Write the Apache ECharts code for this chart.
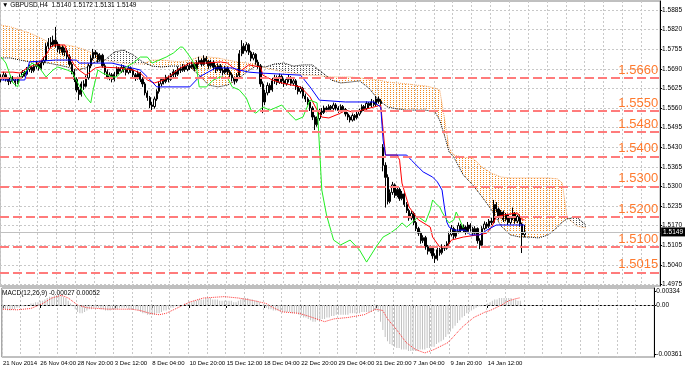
<!DOCTYPE html>
<html><head><meta charset="utf-8">
<script src="https://cdn.jsdelivr.net/npm/echarts@6/dist/echarts.min.js"></script>
<style>html,body{margin:0;padding:0;background:#fff}#c{width:685px;height:370px}</style>
</head><body><div id="c"></div>
<script>
const symbolTitle = 'GBPUSD,H4  1.5140 1.5172 1.5131 1.5149';
const macdTitle = 'MACD(12,26,9) -0.00027 0.00052';
const timeLabels = ['21 Nov 2014','26 Nov 04:00','28 Nov 20:00','3 Dec 12:00','8 Dec 04:00','10 Dec 20:00','15 Dec 12:00','18 Dec 04:00','22 Dec 20:00','29 Dec 04:00','31 Dec 20:00','7 Jan 04:00','9 Jan 20:00','14 Jan 12:00'];
const barsPerLabel = 16;
const totalSlots = 280;
const priceTicks = [1.4975,1.5040,1.5105,1.5170,1.5235,1.5300,1.5365,1.5430,1.5495,1.5560,1.5625,1.5690,1.5755,1.5820,1.5885];
const priceMin = 1.49697, priceMax = 1.59149;
const levels = [1.5660,1.5550,1.5480,1.5400,1.5300,1.5200,1.5100,1.5015];
const bidPrice = 1.5149;
const macdMin = -0.00374, macdMax = 0.00122;
const macdTickValues = [-0.00352, 0, 0.00100];
const macdTickLabels = ['-0.00361','0.00','0.00334'];

// [open, close, low, high]
const candles = [
[1.5655,1.5662,1.5645,1.5672],[1.5662,1.5670,1.5652,1.5680],[1.5670,1.5655,1.5648,1.5676],[1.5655,1.5648,1.5636,1.5662],
[1.5648,1.5660,1.5640,1.5668],[1.5660,1.5652,1.5645,1.5666],[1.5652,1.5645,1.5632,1.5658],[1.5645,1.5658,1.5640,1.5664],
[1.5658,1.5665,1.5650,1.5672],[1.5665,1.5678,1.5660,1.5686],[1.5678,1.5672,1.5664,1.5684],[1.5672,1.5688,1.5668,1.5696],
[1.5688,1.5695,1.5680,1.5704],[1.5695,1.5684,1.5676,1.5700],[1.5684,1.5698,1.5678,1.5706],[1.5698,1.5705,1.5690,1.5716],
[1.5705,1.5692,1.5684,1.5710],[1.5692,1.5710,1.5688,1.5718],[1.5710,1.5718,1.5702,1.5730],[1.5718,1.5765,1.5714,1.5775],
[1.5765,1.5778,1.5756,1.5792],[1.5778,1.5770,1.5758,1.5795],[1.5770,1.5785,1.5762,1.5800],[1.5785,1.5772,1.5760,1.5829],
[1.5772,1.5755,1.5745,1.5780],[1.5755,1.5762,1.5740,1.5772],[1.5762,1.5745,1.5735,1.5768],[1.5745,1.5750,1.5732,1.5760],
[1.5750,1.5730,1.5722,1.5758],[1.5730,1.5705,1.5698,1.5738],[1.5705,1.5680,1.5672,1.5712],[1.5680,1.5655,1.5646,1.5688],
[1.5655,1.5620,1.5612,1.5662],[1.5620,1.5605,1.5586,1.5630],[1.5605,1.5640,1.5598,1.5648],[1.5640,1.5632,1.5620,1.5652],
[1.5632,1.5660,1.5628,1.5668],[1.5660,1.5700,1.5654,1.5708],[1.5700,1.5725,1.5692,1.5735],[1.5725,1.5745,1.5718,1.5756],
[1.5745,1.5738,1.5726,1.5752],[1.5738,1.5720,1.5710,1.5744],[1.5720,1.5735,1.5714,1.5742],[1.5735,1.5700,1.5694,1.5740],
[1.5700,1.5680,1.5670,1.5708],[1.5680,1.5662,1.5655,1.5688],[1.5662,1.5670,1.5652,1.5678],[1.5670,1.5655,1.5645,1.5676],
[1.5655,1.5672,1.5648,1.5680],[1.5672,1.5690,1.5665,1.5698],[1.5690,1.5682,1.5672,1.5696],[1.5682,1.5695,1.5676,1.5705],
[1.5695,1.5688,1.5678,1.5702],[1.5688,1.5678,1.5668,1.5694],[1.5678,1.5692,1.5672,1.5700],[1.5692,1.5685,1.5676,1.5698],
[1.5685,1.5670,1.5660,1.5690],[1.5670,1.5660,1.5650,1.5676],[1.5660,1.5675,1.5654,1.5684],[1.5675,1.5655,1.5646,1.5680],
[1.5655,1.5640,1.5630,1.5662],[1.5640,1.5610,1.5602,1.5646],[1.5610,1.5595,1.5584,1.5618],[1.5595,1.5570,1.5560,1.5600],
[1.5570,1.5565,1.5547,1.5580],[1.5565,1.5590,1.5558,1.5598],[1.5590,1.5615,1.5584,1.5622],[1.5615,1.5640,1.5608,1.5648],
[1.5640,1.5655,1.5632,1.5662],[1.5655,1.5648,1.5638,1.5662],[1.5648,1.5662,1.5642,1.5670],[1.5662,1.5655,1.5645,1.5668],
[1.5655,1.5668,1.5650,1.5676],[1.5668,1.5680,1.5660,1.5688],[1.5680,1.5672,1.5662,1.5686],[1.5672,1.5690,1.5666,1.5698],
[1.5690,1.5685,1.5676,1.5696],[1.5685,1.5698,1.5680,1.5706],[1.5698,1.5688,1.5680,1.5704],[1.5688,1.5700,1.5682,1.5710],
[1.5700,1.5695,1.5686,1.5708],[1.5695,1.5705,1.5690,1.5714],[1.5705,1.5690,1.5682,1.5710],[1.5690,1.5710,1.5686,1.5718],
[1.5710,1.5718,1.5704,1.5730],[1.5718,1.5705,1.5698,1.5724],[1.5705,1.5725,1.5700,1.5735],[1.5725,1.5715,1.5706,1.5732],
[1.5715,1.5700,1.5690,1.5720],[1.5700,1.5712,1.5694,1.5720],[1.5712,1.5695,1.5686,1.5718],[1.5695,1.5688,1.5676,1.5702],
[1.5688,1.5700,1.5682,1.5708],[1.5700,1.5685,1.5676,1.5706],[1.5685,1.5678,1.5668,1.5692],[1.5678,1.5692,1.5672,1.5700],
[1.5692,1.5680,1.5670,1.5698],[1.5680,1.5670,1.5660,1.5686],[1.5670,1.5660,1.5648,1.5676],[1.5660,1.5650,1.5638,1.5664],
[1.5650,1.5668,1.5644,1.5676],[1.5668,1.5740,1.5662,1.5752],[1.5740,1.5765,1.5732,1.5785],[1.5765,1.5750,1.5740,1.5775],
[1.5750,1.5770,1.5744,1.5778],[1.5770,1.5745,1.5736,1.5775],[1.5745,1.5725,1.5715,1.5750],[1.5725,1.5738,1.5718,1.5745],
[1.5738,1.5712,1.5704,1.5742],[1.5712,1.5700,1.5690,1.5720],[1.5700,1.5640,1.5630,1.5706],[1.5640,1.5580,1.5543,1.5648],
[1.5580,1.5610,1.5570,1.5620],[1.5610,1.5635,1.5602,1.5645],[1.5635,1.5620,1.5610,1.5642],[1.5620,1.5650,1.5614,1.5660],
[1.5650,1.5660,1.5640,1.5670],[1.5660,1.5645,1.5636,1.5668],[1.5645,1.5665,1.5640,1.5674],[1.5665,1.5650,1.5640,1.5672],
[1.5650,1.5640,1.5630,1.5658],[1.5640,1.5655,1.5634,1.5662],[1.5655,1.5660,1.5645,1.5670],[1.5660,1.5642,1.5634,1.5666],
[1.5642,1.5650,1.5636,1.5658],[1.5650,1.5630,1.5620,1.5656],[1.5630,1.5615,1.5605,1.5636],[1.5615,1.5625,1.5608,1.5632],
[1.5625,1.5600,1.5592,1.5630],[1.5600,1.5590,1.5580,1.5608],[1.5590,1.5580,1.5570,1.5596],[1.5580,1.5560,1.5550,1.5586],
[1.5560,1.5530,1.5520,1.5566],[1.5530,1.5505,1.5487,1.5536],[1.5505,1.5525,1.5498,1.5532],[1.5525,1.5550,1.5518,1.5558],
[1.5550,1.5545,1.5536,1.5560],[1.5545,1.5560,1.5540,1.5568],[1.5560,1.5555,1.5546,1.5566],[1.5555,1.5565,1.5548,1.5572],
[1.5565,1.5558,1.5550,1.5570],[1.5558,1.5570,1.5552,1.5578],[1.5570,1.5560,1.5552,1.5576],[1.5560,1.5552,1.5544,1.5566],
[1.5552,1.5565,1.5546,1.5572],[1.5565,1.5555,1.5546,1.5570],[1.5555,1.5540,1.5532,1.5560],[1.5540,1.5530,1.5520,1.5546],
[1.5530,1.5520,1.5512,1.5536],[1.5520,1.5535,1.5515,1.5542],[1.5535,1.5528,1.5518,1.5540],[1.5528,1.5540,1.5522,1.5548],
[1.5540,1.5550,1.5534,1.5558],[1.5550,1.5565,1.5545,1.5572],[1.5565,1.5558,1.5550,1.5570],[1.5558,1.5575,1.5552,1.5582],
[1.5575,1.5568,1.5560,1.5580],[1.5568,1.5580,1.5562,1.5590],[1.5580,1.5572,1.5565,1.5586],[1.5572,1.5590,1.5566,1.5600],
[1.5590,1.5582,1.5574,1.5598],[1.5582,1.5575,1.5568,1.5590],[1.5430,1.5370,1.5350,1.5440],[1.5370,1.5330,1.5230,1.5380],
[1.5330,1.5250,1.5240,1.5340],[1.5250,1.5280,1.5244,1.5290],[1.5280,1.5305,1.5272,1.5315],[1.5305,1.5270,1.5262,1.5310],
[1.5270,1.5290,1.5264,1.5298],[1.5290,1.5260,1.5252,1.5296],[1.5260,1.5275,1.5254,1.5285],[1.5275,1.5240,1.5232,1.5280],
[1.5240,1.5220,1.5212,1.5248],[1.5220,1.5195,1.5186,1.5226],[1.5195,1.5210,1.5188,1.5218],[1.5210,1.5180,1.5172,1.5216],
[1.5180,1.5160,1.5152,1.5186],[1.5160,1.5145,1.5136,1.5166],[1.5145,1.5120,1.5110,1.5150],[1.5120,1.5130,1.5112,1.5138],
[1.5130,1.5100,1.5090,1.5136],[1.5100,1.5085,1.5074,1.5106],[1.5085,1.5095,1.5078,1.5104],[1.5095,1.5070,1.5060,1.5100],
[1.5070,1.5060,1.5046,1.5078],[1.5060,1.5090,1.5054,1.5098],[1.5090,1.5080,1.5070,1.5096],[1.5080,1.5100,1.5074,1.5108],
[1.5100,1.5095,1.5086,1.5106],[1.5095,1.5110,1.5090,1.5118],[1.5110,1.5140,1.5104,1.5150],[1.5140,1.5160,1.5134,1.5172],
[1.5160,1.5135,1.5126,1.5166],[1.5135,1.5150,1.5128,1.5158],[1.5150,1.5170,1.5144,1.5180],[1.5170,1.5155,1.5146,1.5176],
[1.5155,1.5165,1.5148,1.5174],[1.5165,1.5150,1.5140,1.5170],[1.5150,1.5172,1.5144,1.5182],[1.5172,1.5160,1.5150,1.5178],
[1.5160,1.5145,1.5136,1.5166],[1.5145,1.5160,1.5140,1.5168],[1.5160,1.5120,1.5110,1.5164],[1.5120,1.5105,1.5092,1.5128],
[1.5105,1.5160,1.5100,1.5168],[1.5160,1.5175,1.5154,1.5184],[1.5175,1.5168,1.5160,1.5182],[1.5168,1.5185,1.5162,1.5192],
[1.5185,1.5180,1.5172,1.5196],[1.5180,1.5240,1.5176,1.5255],[1.5240,1.5225,1.5214,1.5248],[1.5225,1.5200,1.5190,1.5230],
[1.5200,1.5215,1.5194,1.5222],[1.5215,1.5190,1.5182,1.5220],[1.5190,1.5205,1.5184,1.5212],[1.5205,1.5180,1.5172,1.5210],
[1.5180,1.5195,1.5174,1.5202],[1.5195,1.5210,1.5188,1.5230],[1.5210,1.5185,1.5176,1.5215],[1.5185,1.5200,1.5178,1.5206],
[1.5200,1.5175,1.5166,1.5206],[1.5175,1.5140,1.5079,1.5180],[1.5140,1.5149,1.5131,1.5172]
];

// Ichimoku lines: [bar index, price]
const tenkan = [[0,1.5679],[5,1.5679],[8,1.5676],[11,1.5693],[13,1.5699],[16,1.5709],[19,1.5736],[21,1.5762],[23,1.5769],[27,1.5769],[28,1.5742],[31,1.5703],[33,1.5686],[36,1.5669],[40,1.5693],[42,1.5696],[50,1.5693],[56,1.5686],[59,1.5676],[62,1.5653],[65,1.5643],[69,1.5653],[72,1.5669],[76,1.5693],[80,1.5709],[87,1.5709],[93,1.5713],[96,1.5709],[98,1.5696],[101,1.5679],[105,1.5703],[110,1.5696],[111,1.5669],[115,1.5653],[119,1.5643],[127,1.5630],[131,1.5597],[134,1.5553],[136,1.5530],[139,1.5527],[144,1.5543],[146,1.5553],[149,1.5547],[153,1.5553],[158,1.5563],[161,1.5570],[163,1.5404],[168,1.5404],[169,1.5387],[170,1.5311],[173,1.5232],[177,1.5189],[182,1.5165],[183,1.5132],[186,1.5099],[189,1.5099],[191,1.5122],[196,1.5132],[202,1.5139],[206,1.5145],[208,1.5165],[210,1.5199],[213,1.5205],[219,1.5212],[221,1.5189],[222,1.5189]];
const kijun = [[0,1.5653],[10,1.5653],[12,1.5713],[23,1.5719],[32,1.5719],[33,1.5709],[47,1.5709],[59,1.5686],[62,1.5663],[66,1.5630],[80,1.5630],[84,1.5663],[91,1.5693],[98,1.5693],[101,1.5686],[105,1.5679],[110,1.5676],[127,1.5669],[131,1.5630],[135,1.5586],[146,1.5580],[158,1.5580],[161,1.5563],[162,1.5454],[163,1.5404],[172,1.5404],[174,1.5387],[179,1.5348],[183,1.5331],[185,1.5315],[187,1.5288],[188,1.5232],[189,1.5182],[190,1.5165],[192,1.5155],[197,1.5155],[199,1.5139],[203,1.5139],[206,1.5155],[210,1.5172],[222,1.5172]];
const chikou = [[0,1.5729],[2,1.5709],[5,1.5643],[7,1.5630],[8,1.5663],[11,1.5686],[13,1.5709],[16,1.5696],[19,1.5663],[22,1.5686],[24,1.5696],[28,1.5686],[30,1.5679],[33,1.5636],[36,1.5596],[38,1.5577],[39,1.5620],[41,1.5686],[43,1.5676],[47,1.5663],[49,1.5663],[53,1.5696],[56,1.5709],[59,1.5729],[62,1.5729],[64,1.5709],[67,1.5719],[70,1.5729],[73,1.5742],[76,1.5762],[77,1.5762],[79,1.5742],[81,1.5719],[83,1.5686],[84,1.5630],[87,1.5630],[90,1.5653],[93,1.5663],[96,1.5660],[98,1.5630],[101,1.5620],[104,1.5593],[106,1.5553],[108,1.5543],[111,1.5563],[114,1.5553],[117,1.5563],[119,1.5570],[122,1.5543],[125,1.5520],[128,1.5530],[131,1.5586],[134,1.5577],[136,1.5288],[138,1.5205],[141,1.5122],[144,1.5106],[148,1.5122],[152,1.5089],[155,1.5049],[159,1.5099],[162,1.5132],[165,1.5145],[168,1.5162],[170,1.5179],[172,1.5165],[174,1.5179],[177,1.5199],[180,1.5182],[182,1.5222],[183,1.5255],[185,1.5238],[186,1.5232],[187,1.5215],[189,1.5189],[190,1.5179],[192,1.5189],[193,1.5215],[194,1.5199],[196,1.5162]];
const cloudIdx = [0,4,8,12,16,20,24,28,32,36,40,44,48,52,56,60,64,68,72,76,80,84,88,92,96,100,104,108,112,116,120,124,128,132,136,140,144,148,152,156,160,164,168,172,176,180,184,186,188,190,192,196,200,204,208,212,216,220,224,228,232,236,238,240,244,248];
const spanB = [1.5835,1.5829,1.5819,1.5809,1.5795,1.5779,1.5769,1.5769,1.5762,1.5752,1.5736,1.5719,1.5713,1.5709,1.5706,1.5706,1.5719,1.5719,1.5716,1.5713,1.5719,1.5729,1.5729,1.5726,1.5719,1.5713,1.5709,1.5706,1.5693,1.5686,1.5679,1.5676,1.5669,1.5669,1.5666,1.5663,1.5663,1.5663,1.5660,1.5656,1.5653,1.5646,1.5643,1.5640,1.5636,1.5633,1.5626,1.5620,1.5527,1.5427,1.5404,1.5397,1.5394,1.5364,1.5344,1.5331,1.5328,1.5328,1.5328,1.5328,1.5328,1.5325,1.5311,1.5199,1.5169,1.5162];
const spanA = [1.5726,1.5726,1.5719,1.5713,1.5713,1.5709,1.5703,1.5696,1.5686,1.5693,1.5713,1.5719,1.5746,1.5752,1.5736,1.5713,1.5699,1.5696,1.5699,1.5699,1.5696,1.5669,1.5636,1.5630,1.5636,1.5653,1.5679,1.5699,1.5696,1.5706,1.5709,1.5699,1.5703,1.5703,1.5679,1.5653,1.5643,1.5646,1.5650,1.5626,1.5587,1.5563,1.5557,1.5553,1.5553,1.5553,1.5547,1.5520,1.5470,1.5414,1.5397,1.5338,1.5305,1.5265,1.5222,1.5169,1.5139,1.5132,1.5132,1.5129,1.5139,1.5165,1.5182,1.5192,1.5199,1.5172];

// MACD
const macdHist = [-0.0003,-0.0003,-0.0004,-0.0004,-0.0003,-0.0003,-0.0002,-0.0002,
-0.0001,-0.0001,0,0,0.0001,
0.0001,0.0002,0.0002,0.0003,0.0003,0.0004,0.0005,0.0006,0.0006,0.0007,0.0007,0.0007,
0.0007,0.0006,0.0005,0.0003,0.0001,
-0.0001,-0.0003,-0.0005,-0.0006,-0.0006,-0.0005,
-0.0004,-0.0003,-0.0003,-0.0002,-0.0002,-0.0002,-0.0003,-0.0003,-0.0004,-0.0004,-0.0004,-0.0003,-0.0003,-0.0003,-0.0002,-0.0002,-0.0002,-0.0002,-0.0003,-0.0003,-0.0003,-0.0003,-0.0004,
-0.0005,-0.0006,-0.0006,-0.0007,-0.0007,-0.0007,-0.0007,-0.0006,-0.0006,-0.0005,-0.0004,-0.0004,-0.0003,-0.0002,
-0.0002,-0.0001,-0.0001,0,0,0.0001,0.0001,0.0002,
0.0002,0.0003,0.0003,0.0004,0.0004,0.0004,0.0005,0.0005,0.0005,0.0004,0.0004,0.0004,0.0003,0.0003,0.0003,0.0003,0.0003,0.0003,0.0002,0.0002,
0.0003,0.0004,0.0005,0.0005,0.0005,0.0004,0.0004,0.0003,0.0003,0.0002,0,-0.0001,
-0.0002,-0.0003,-0.0003,-0.0004,-0.0004,-0.0004,-0.0005,-0.0005,-0.0005,-0.0005,-0.0005,-0.0006,-0.0006,-0.0006,
-0.0007,-0.0008,-0.0009,-0.0009,-0.0010,-0.0011,-0.0012,-0.0012,-0.0011,-0.0011,-0.0010,-0.0010,-0.0009,-0.0009,
-0.0008,-0.0008,-0.0007,-0.0007,-0.0007,-0.0007,-0.0007,-0.0007,-0.0006,-0.0006,-0.0006,-0.0006,-0.0006,-0.0005,-0.0005,-0.0005,-0.0005,-0.0005,-0.0004,-0.0004,
-0.0005,-0.0012,-0.0018,-0.0023,-0.0026,-0.0028,-0.0029,-0.0030,
-0.0031,-0.0031,-0.0032,-0.0032,-0.0032,-0.0033,-0.0033,-0.0033,-0.0033,-0.0033,-0.0032,-0.0032,-0.0032,-0.0031,-0.0031,-0.0030,-0.0030,-0.0028,
-0.0027,-0.0026,-0.0025,-0.0023,-0.0021,-0.0019,-0.0017,-0.0015,-0.0013,-0.0011,-0.0009,-0.0008,-0.0006,-0.0005,-0.0004,-0.0003,
-0.0002,-0.0001,-0.0001,0,0,
0.0001,0.0002,0.0003,0.0004,0.0004,0.0005,0.0005,0.0005,0.0005,0.0005,0.0005,0.0004,0.0004,0.0003,0.0003];
const macdSignal = [[0,-0.0003],[6,-0.00035],[12,-0.00025],[17,0.0001],[21,0.0005],[25,0.0007],[28,0.0005],[32,0],[36,-0.0002],[45,-0.0003],[55,-0.0003],[59,-0.0004],[63,-0.0006],[67,-0.0007],[70,-0.0006],[75,-0.0002],[80,0.0002],[86,0.0005],[95,0.0006],[101,0.0005],[108,0.0003],[113,0.0001],[116,-0.0002],[120,-0.0005],[127,-0.0006],[131,-0.0008],[138,-0.0012],[142,-0.001],[148,-0.0009],[155,-0.0007],[160,-0.0003],[163,-0.0004],[165,-0.001],[169,-0.0018],[173,-0.0027],[177,-0.0032],[181,-0.00345],[185,-0.0032],[191,-0.0027],[197,-0.0016],[202,-0.0009],[207,-0.0005],[209,-0.0004],[214,0],[217,0.0003],[220,0.00045],[222,0.00052]];

// ---------- build ----------
const cats = [];
for (let i = 0; i < totalSlots; i++) {
  const k = i / barsPerLabel;
  cats.push(i % barsPerLabel === 0 && k < timeLabels.length ? timeLabels[k] : '');
}
const lblInt = (i) => i % barsPerLabel === 0 && i / barsPerLabel < timeLabels.length;
const gridInt = (i) => i % 8 === 0;

function pattern(color, cells, w, h) {
  const c = document.createElement('canvas');
  c.width = w; c.height = h;
  const g = c.getContext('2d');
  g.fillStyle = color;
  cells.forEach(([x, y]) => g.fillRect(x, y, 1, 1));
  return c;
}
const orangeDots = pattern('#f28a1c', [[0,0]], 3, 2);
const blackDots = pattern('#222222', [[0,0]], 3, 2);

const cloudBase = cloudIdx.map((x, k) => [x, Math.min(spanA[k], spanB[k])]);
const cloudOrange = cloudIdx.map((x, k) => [x, Math.max(spanB[k] - spanA[k], 0)]);
const cloudBlack = cloudIdx.map((x, k) => [x, Math.max(spanA[k] - spanB[k], 0)]);
const spanBLine = cloudIdx.map((x, k) => [x, spanB[k]]);
const spanALine = cloudIdx.map((x, k) => [x, spanA[k]]);

const FONT = 'Liberation Sans';
const gridLine = { color: '#c8c8c8', type: [2, 2], width: 1 };
const noSym = { showSymbol: false, symbol: 'none', animation: false };

const chart = echarts.init(document.getElementById('c'), null, { renderer: 'canvas' });
chart.setOption({
  animation: false,
  backgroundColor: '#ffffff',
  textStyle: { fontFamily: FONT },
  title: [
    { text: '\u25BC ' + symbolTitle, left: 2, top: 2, padding: 0, textStyle: { fontSize: 6.5, fontWeight: 'normal', color: '#000', fontFamily: FONT } },
    { text: macdTitle, left: 2, top: 290, padding: 0, textStyle: { fontSize: 6.5, fontWeight: 'normal', color: '#000', fontFamily: FONT } }
  ],
  grid: [
    { left: 0, right: 24, top: 1, height: 285, show: true, borderColor: '#808080', borderWidth: 1 },
    { left: 0, right: 24, top: 288, height: 69, show: true, borderColor: '#808080', borderWidth: 1 }
  ],
  xAxis: [
    { type: 'category', gridIndex: 0, data: cats, boundaryGap: true,
      axisLine: { show: false }, axisTick: { show: false }, axisLabel: { show: false },
      splitLine: { show: true, interval: gridInt, lineStyle: gridLine } },
    { type: 'category', gridIndex: 1, data: cats, boundaryGap: true,
      axisLine: { show: true, lineStyle: { color: '#000', width: 1 } },
      axisTick: { show: true, interval: lblInt, length: 3, alignWithLabel: true, lineStyle: { color: '#000' } },
      axisLabel: { show: true, interval: lblInt, align: 'left', fontSize: 6, color: '#000', margin: 3, fontFamily: FONT },
      splitLine: { show: true, interval: gridInt, lineStyle: gridLine } }
  ],
  yAxis: [
    { type: 'value', gridIndex: 0, position: 'right', min: priceMin, max: priceMax, scale: true,
      axisLine: { show: true, lineStyle: { color: '#000' } },
      axisTick: { show: true, length: 2, customValues: priceTicks, lineStyle: { color: '#000' } },
      axisLabel: { show: true, customValues: priceTicks, formatter: (v) => v.toFixed(4), fontSize: 6.5, color: '#000', margin: 2, fontFamily: FONT },
      splitLine: { show: true, lineStyle: gridLine } },
    { type: 'value', gridIndex: 1, position: 'right', min: macdMin, max: macdMax,
      axisLine: { show: true, lineStyle: { color: '#000' } },
      axisTick: { show: true, length: 2, customValues: macdTickValues, lineStyle: { color: '#000' } },
      axisLabel: { show: true, customValues: macdTickValues, formatter: (v, i) => { const k = macdTickValues.indexOf(v); return macdTickLabels[k >= 0 ? k : i]; }, fontSize: 6.5, color: '#000', margin: 2, fontFamily: FONT },
      splitLine: { show: false } }
  ],
  series: [
    // cloud fills
    { type: 'line', name: 'cloudBase1', data: cloudBase, stack: 'kumoO', lineStyle: { opacity: 0 }, z: 1, ...noSym },
    { type: 'line', name: 'kumoOrange', data: cloudOrange, stack: 'kumoO', lineStyle: { opacity: 0 },
      areaStyle: { color: { image: orangeDots, repeat: 'repeat' }, opacity: 1 }, z: 1, ...noSym },
    { type: 'line', name: 'cloudBase2', data: cloudBase, stack: 'kumoB', lineStyle: { opacity: 0 }, z: 1, ...noSym },
    { type: 'line', name: 'kumoBlack', data: cloudBlack, stack: 'kumoB', lineStyle: { opacity: 0 },
      areaStyle: { color: { image: blackDots, repeat: 'repeat' }, opacity: 0.8 }, z: 1, ...noSym },
    { type: 'line', name: 'Senkou B', data: spanBLine, lineStyle: { color: '#f4a460', width: 1, type: 'dotted' }, z: 2, ...noSym },
    { type: 'line', name: 'Senkou A', data: spanALine, lineStyle: { color: '#000000', width: 1, type: 'dotted' }, z: 2, ...noSym },
    // candles
    { type: 'candlestick', name: 'GBPUSD', data: candles, barWidth: 1.8, z: 3,
      itemStyle: { color: '#ffffff', color0: '#000000', borderColor: '#000000', borderColor0: '#000000', borderWidth: 1 } },
    { type: 'line', name: 'Tenkan', data: tenkan, lineStyle: { color: '#ff0000', width: 1 }, z: 4, ...noSym },
    { type: 'line', name: 'Kijun', data: kijun, lineStyle: { color: '#0000ff', width: 1 }, z: 4, ...noSym },
    { type: 'line', name: 'Chikou', data: chikou, lineStyle: { color: '#22ee22', width: 1 }, z: 4, ...noSym },
    // levels
    { type: 'line', name: 'levels', data: [], clip: false, z: 5, ...noSym,
      markLine: { symbol: ['none', 'none'], silent: true, animation: false, precision: 4,
        lineStyle: { color: '#ff7b7b', width: 2, type: [9, 4] },
        label: { show: true, position: 'insideEndTop', formatter: (p) => Number(p.value).toFixed(4), color: '#ff7a2e', fontSize: 13, distance: [2, 1], fontFamily: FONT },
        data: levels.map((v) => ({ yAxis: v })) } },
    { type: 'line', name: 'levelTags', data: [], clip: false, z: 6, ...noSym,
      markLine: { symbol: ['none', 'none'], silent: true, animation: false, precision: 4,
        lineStyle: { opacity: 0 },
        label: { show: true, position: 'end', formatter: (p) => Number(p.value).toFixed(4), color: '#ffffff', backgroundColor: '#ff0000', fontSize: 6.5, padding: [1, 2, 1, 2], distance: 1, fontFamily: FONT },
        data: levels.map((v) => ({ yAxis: v })) } },
    { type: 'line', name: 'bid', data: [], clip: false, z: 6, ...noSym,
      markLine: { symbol: ['none', 'none'], silent: true, animation: false, precision: 4,
        lineStyle: { color: '#c0c0c0', width: 1, type: 'solid' },
        label: { show: true, position: 'end', formatter: (p) => Number(p.value).toFixed(4), color: '#ffffff', backgroundColor: '#000000', fontSize: 6.5, padding: [1, 2, 1, 2], distance: 1, fontFamily: FONT },
        data: [{ yAxis: bidPrice }] } },
    // MACD
    { type: 'bar', name: 'MACD', xAxisIndex: 1, yAxisIndex: 1, data: macdHist, barWidth: 1, itemStyle: { color: '#c0c0c0' }, z: 2,
      markLine: { symbol: ['none', 'none'], silent: true, animation: false, precision: 5,
        lineStyle: { color: '#c8c8c8', width: 1, type: [2, 2] }, label: { show: false },
        data: [{ yAxis: 0 }] } },
    { type: 'line', name: 'Signal', xAxisIndex: 1, yAxisIndex: 1, data: macdSignal, lineStyle: { color: '#ff3030', width: 1, type: 'dotted' }, z: 3, ...noSym }
  ]
});
</script>
</body></html>
